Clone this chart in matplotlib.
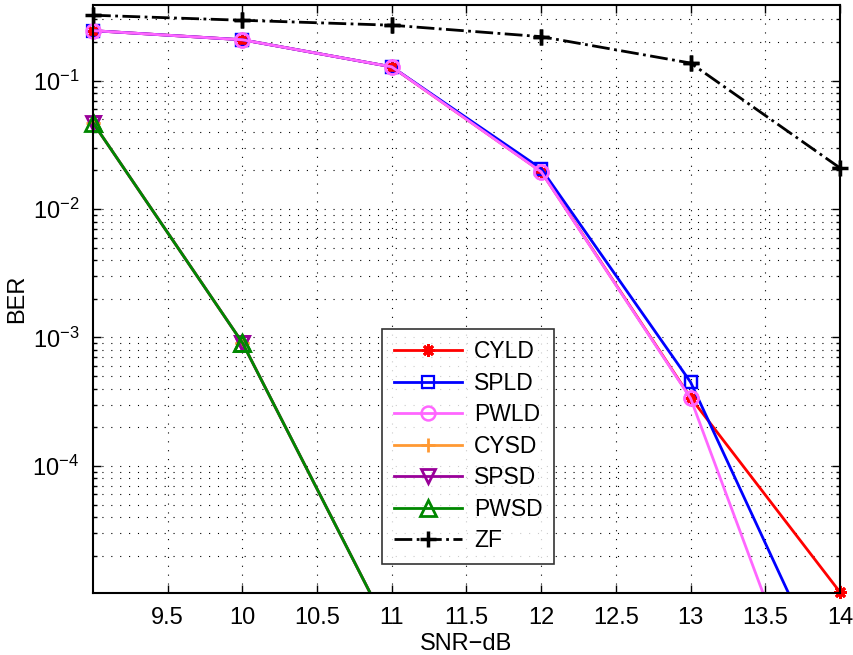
import numpy as np
import matplotlib
matplotlib.use("Agg")
import matplotlib.pyplot as plt
from matplotlib.ticker import LogLocator, NullFormatter, FixedLocator

plt.rcParams['font.family'] = ['Liberation Sans', 'DejaVu Sans']
plt.rcParams['mathtext.fontset'] = 'custom'
plt.rcParams['mathtext.rm'] = 'Liberation Sans'

snr = [9, 10, 11, 12, 13, 14]
cyld = [0.245, 0.208, 0.128, 0.0196, 3.4e-4, 1.04e-5]
spld = [0.245, 0.208, 0.128, 0.0206, 4.49e-4, 1.4e-6]
pwld = [0.245, 0.208, 0.128, 0.0195, 3.36e-4, 2.5e-7]
cysd = [0.047, 9.1e-4, 4.8e-6, np.nan, np.nan, np.nan]
spsd = [0.047, 9.1e-4, 4.8e-6, np.nan, np.nan, np.nan]
pwsd = [0.047, 9.1e-4, 4.8e-6, np.nan, np.nan, np.nan]
zf = [0.323, 0.295, 0.27, 0.22, 0.137, 0.0209]

xticks = [9.5, 10, 10.5, 11, 11.5, 12, 12.5, 13, 13.5, 14]
xticklabels = ['9.5', '10', '10.5', '11', '11.5', '12', '12.5', '13', '13.5', '14']

YMIN, YMAX = 1.03e-5, 0.39

fig = plt.figure(figsize=(8.54, 6.55), dpi=100)
ax = fig.add_axes([0.1089, 0.0951, 0.8747, 0.8977])

lw = 2.0
series = [
    (cyld, 'CYLD', dict(color='#ff0000', marker=(8, 2, 0), ms=9, mew=2)),
    (spld, 'SPLD', dict(color='#0000ff', marker='s', ms=9, mfc='none', mew=1.6)),
    (pwld, 'PWLD', dict(color='#ff66ff', marker='o', ms=10, mfc='none', mew=1.8)),
    (cysd, 'CYSD', dict(color='#ff9933', marker='+', ms=10, mew=2)),
    (spsd, 'SPSD', dict(color='#990099', marker='v', ms=10, mfc='none', mew=2)),
    (pwsd, 'PWSD', dict(color='#008800', marker='^', ms=11, mfc='none', mew=2)),
    (zf, 'ZF', dict(color='black', marker='+', ms=12, mew=2.5)),
]
for i, (vals, name, st) in enumerate(series):
    ls = '-.' if name == 'ZF' else '-'
    z = 2 + i * 0.1
    ax.plot(snr, vals, lw=lw, ls=ls, label=name, zorder=z, **st)
    v = np.array(vals, dtype=float)
    vin = np.where(v >= YMIN * 0.97, v, np.nan)
    ax.plot(snr, vin, ls='none', clip_on=False, zorder=z, **st)

ax.set_yscale('log')
ax.set_xlim(9.0, 14.0)
ax.set_ylim(YMIN, YMAX)

ax.xaxis.set_major_locator(FixedLocator(xticks))
ax.set_xticklabels(xticklabels)
ax.yaxis.set_major_locator(LogLocator(base=10, numticks=20))
ax.yaxis.set_minor_locator(LogLocator(base=10, subs=np.arange(2, 10), numticks=20))
ax.yaxis.set_minor_formatter(NullFormatter())

dot = (0, (1, 7))
ax.grid(True, which='major', axis='both', ls=dot, color='black', lw=0.8)
ax.grid(True, which='minor', axis='y', ls=dot, color='black', lw=0.8)

ax.tick_params(which='both', direction='in', top=True, right=True, labelsize=17, width=1)
ax.tick_params(which='major', length=6)
ax.tick_params(axis='x', which='major', pad=10)
ax.tick_params(axis='y', which='major', pad=10)
ax.tick_params(which='minor', length=3)
for s in ax.spines.values():
    s.set_linewidth(1.5)

ax.set_xlabel('SNR\u2212dB', fontsize=17, labelpad=3)
ax.set_ylabel('BER', fontsize=17)
ax.yaxis.set_label_coords(-0.087, 0.5)

leg = ax.legend(loc='upper left', bbox_to_anchor=(0.387, 0.4485), borderaxespad=0,
                fontsize=16.5, frameon=True, fancybox=False, edgecolor='black',
                handlelength=3.0, labelspacing=0.37, borderpad=0.5, handletextpad=0.5)
leg.get_frame().set_linewidth(1.2)
leg.set_zorder(10)

fig.savefig('out.png', dpi=100)
